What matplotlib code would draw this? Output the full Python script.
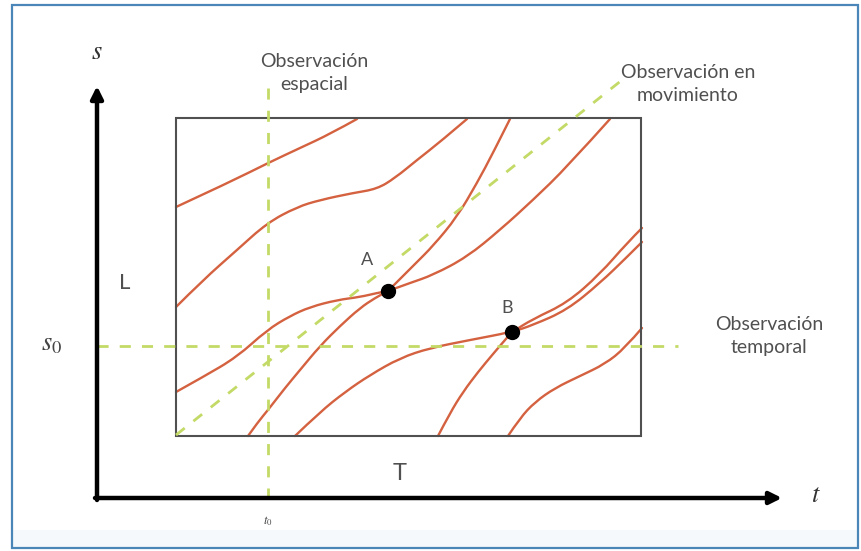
import matplotlib
matplotlib.use("Agg")
import matplotlib.pyplot as plt
from matplotlib.patches import Rectangle, PathPatch
from matplotlib.path import Path

# Diagram coordinates in picture units (x right, y down)
# trajectories (vehicle paths) in the t-s plane
traj_1 = [(176, 207), (230, 182), (268, 163), (300, 148), (330, 134), (357, 119)]
traj_2 = [(176, 307), (203, 280), (237, 250), (267, 223), (297, 207), (320, 200),
          (353, 193), (377, 189), (395, 178), (417, 160), (440, 142), (467, 119)]
traj_3 = [(176, 392), (203, 377), (237, 357), (267, 330), (290, 316), (310, 307),
          (337, 300), (360, 297), (377, 293), (388, 291), (410, 283), (433, 275),
          (467, 257), (500, 230), (533, 200), (567, 167), (610, 119)]
traj_4 = [(248, 436), (258, 422), (268, 410), (285, 388), (300, 370), (320, 346),
          (340, 326), (360, 308), (375, 298), (388, 291), (400, 279), (415, 264),
          (433, 246), (457, 217), (477, 183), (493, 153), (510, 119)]
traj_5 = [(295, 436), (320, 412), (345, 392), (370, 375), (400, 358), (430, 348),
          (470, 340), (512, 332), (533, 325), (567, 310), (600, 283), (627, 257),
          (642, 242)]
traj_6 = [(438, 436), (450, 413), (463, 392), (478, 372), (493, 354), (505, 340),
          (512, 332), (533, 319), (567, 303), (600, 274), (627, 243), (642, 228)]
traj_7 = [(508, 436), (520, 418), (535, 402), (555, 388), (580, 376), (605, 364),
          (625, 348), (642, 328)]
trajectories = [traj_1, traj_2, traj_3, traj_4, traj_5, traj_6, traj_7]

# observation lines
spatial_x = 268
spatial_y = (88, 498)
temporal_y = 346
temporal_x = (97, 678)
moving_start = (176, 435)
moving_end = (622, 80)

points = {"A": (388, 291), "B": (512, 332)}
point_labels = {"A": (367, 260), "B": (507, 308)}

box = (176, 118, 641, 436)  # left, top, right, bottom

W, H = 861, 551
fig = plt.figure(figsize=(W / 100, H / 100), dpi=100)
ax = fig.add_axes([0, 0, 1, 1])
ax.set_xlim(0, W)
ax.set_ylim(H, 0)
ax.axis("off")

plt.rcParams["mathtext.fontset"] = "stix"
sans = ["Lato", "DejaVu Sans"]
grey = "#505050"
red = "#d4613f"
green = "#c3da66"


def smooth_path(pts):
    # quadratic bezier pieces, control at each given point
    verts = [pts[0]]
    codes = [Path.MOVETO]
    for i in range(1, len(pts) - 1):
        nx = (pts[i][0] + pts[i + 1][0]) / 2
        ny = (pts[i][1] + pts[i + 1][1]) / 2
        if i == len(pts) - 2:
            nx, ny = pts[-1]
        verts += [pts[i], (nx, ny)]
        codes += [Path.CURVE3, Path.CURVE3]
    if len(pts) == 2:
        verts.append(pts[1])
        codes.append(Path.LINETO)
    return Path(verts, codes)


# outer frame
ax.add_patch(Rectangle((12, 530), 846, 18, facecolor="#f5f9fb", edgecolor="none"))
ax.add_patch(Rectangle((12, 5), 846, 543, facecolor="none", edgecolor="#4a86b8", lw=1.6))

# dashed observation lines
dash = dict(color=green, lw=2, dashes=(4, 4))
ax.plot([spatial_x, spatial_x], spatial_y, **dash)
ax.plot(temporal_x, [temporal_y, temporal_y], **dash)
ax.plot([moving_start[0], moving_end[0]], [moving_start[1], moving_end[1]], **dash)

# trajectories
for tr in trajectories:
    ax.add_patch(PathPatch(smooth_path(tr), facecolor="none", edgecolor=red,
                           lw=1.7, capstyle="round"))

# study box
l, t, r, b = box
ax.add_patch(Rectangle((l, t), r - l, b - t, facecolor="none", edgecolor="#505050", lw=1.5))

# points A and B
for k, (px, py) in points.items():
    ax.plot(px, py, "o", color="black", ms=10)
    lx, ly = point_labels[k]
    ax.text(lx, ly, k, family=sans, fontsize=13, color=grey, ha="center", va="center")

# axes arrows
arr = dict(arrowstyle="-|>", lw=3.2, color="black", mutation_scale=18, shrinkA=0, shrinkB=0)
ax.annotate("", xy=(97, 86), xytext=(97, 500), arrowprops=arr)
ax.annotate("", xy=(782, 498), xytext=(95, 498), arrowprops=arr)

# labels
ax.text(97, 52, "$s$", fontsize=19, color="#333333", ha="center", va="center")
ax.text(816, 495, "$t$", fontsize=19, color="#333333", ha="center", va="center")
ax.text(52, 343, "$s_0$", fontsize=19, color="#444444", ha="center", va="center")
ax.text(268, 521, "$t_0$", fontsize=9, color="#444444", ha="center", va="center")
ax.text(125, 283, "L", family=sans, fontsize=16, color=grey, ha="center", va="center")
ax.text(400, 473, "T", family=sans, fontsize=17, color=grey, ha="center", va="center")

ax.text(314, 73, "Observación\nespacial", family=sans, fontsize=14, color=grey,
        ha="center", va="center", linespacing=1.4)
ax.text(688, 84, "Observación en\nmovimiento", family=sans, fontsize=14, color=grey,
        ha="center", va="center", linespacing=1.4)
ax.text(769, 336, "Observación\ntemporal", family=sans, fontsize=14, color=grey,
        ha="center", va="center", linespacing=1.4)

fig.savefig("out.png", dpi=100)
